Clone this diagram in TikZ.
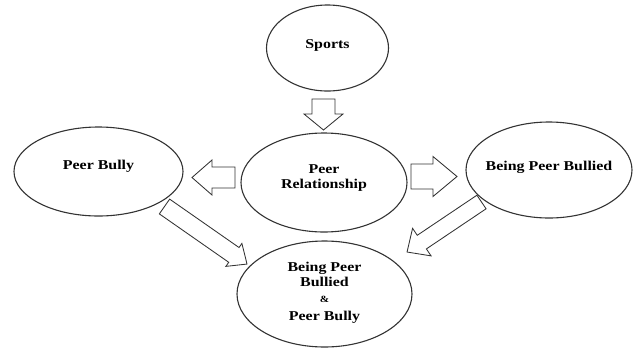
\documentclass[tikz,border=0pt]{standalone}
\usepackage{fontspec}
\setmainfont{Liberation Serif}[FakeStretch=1.18]
\usetikzlibrary{shapes.geometric}
% #1 tail, #2 angle, #3 length, #4 body half-width, #5 head half-width, #6 head length
\newcommand\blockarrow[6]{%
  \draw[blk, shift={#1}, rotate=#2] (0,-#4) -- (#3-#6,-#4) -- (#3-#6,-#5) -- (#3,0)
    -- (#3-#6,#5) -- (#3-#6,#4) -- (0,#4) -- cycle;}
\begin{document}
\begin{tikzpicture}[x=1pt,y=1pt,
  ell/.style={ellipse, draw=black!80, line width=1.1pt, inner sep=0pt},
  lab/.style={font=\bfseries\fontsize{13.5}{15}\selectfont, align=center, inner sep=0pt, text=black},
  blk/.style={draw=black!80, line width=0.85pt, line join=miter, fill=white}]
\useasboundingbox (0,0) rectangle (635,-349);
% ellipses
\node[ell, minimum width=122, minimum height=86] (sports) at (327.5,-48) {};
\node[ell, minimum width=166, minimum height=99] (rel) at (324,-182.5) {};
\node[ell, minimum width=169, minimum height=89] (bully) at (98.5,-171.5) {};
\node[ell, minimum width=166, minimum height=96] (bullied) at (549,-170) {};
\node[ell, minimum width=175, minimum height=106] (both) at (324.5,-294) {};
% labels
\node[lab] (sportsT) at ([yshift=3]sports.center) {Sports};
\node[lab] (relT) at ([yshift=4]rel.center) {Peer\\Relationship};
\node[lab] (bullyT) at ([yshift=5]bully.center) {Peer Bully};
\node[lab] (bulliedT) at ([yshift=3]bullied.center) {Being Peer Bullied};
\node[lab] (bothT) at ([yshift=1]both.center) {Being Peer\\Bullied\\[1pt]{\fontsize{9.5}{10}\selectfont\&}\\[3pt]Peer Bully};
% block arrows
\blockarrow{(323.5,-99)}{-90}{31}{11.5}{19.5}{16}
\blockarrow{(235,-177.5)}{180}{43}{10.5}{17.5}{20}
\blockarrow{(411,-176.5)}{0}{46}{12.5}{20}{24}
\blockarrow{(164.5,-206.5)}{-34.9}{100.6}{9}{14}{16}
\blockarrow{(481.5,-202)}{-146.1}{89.7}{8.2}{16.6}{17.8}
\end{tikzpicture}
\end{document}
